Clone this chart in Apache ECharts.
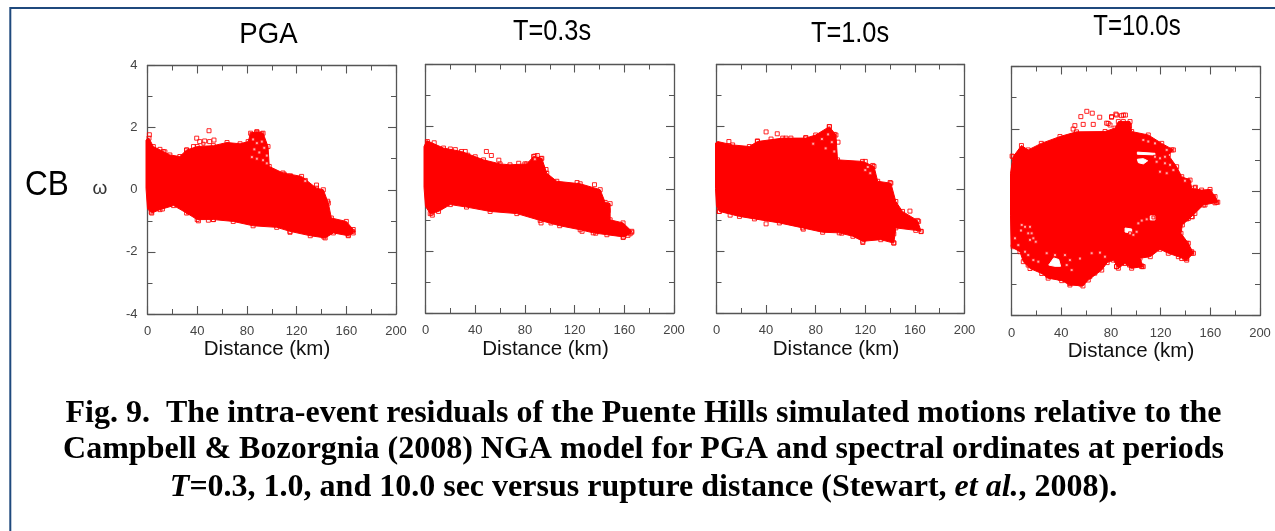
<!DOCTYPE html>
<html>
<head>
<meta charset="utf-8">
<style>html,body{margin:0;padding:0;background:#fff}#c{width:1275px;height:531px}</style>
<script src="https://cdn.jsdelivr.net/npm/echarts@6/dist/echarts.min.js"></script>
</head>
<body>
<div id="c"></div>
<script>
// Tick labels
const xTicks = [0, 40, 80, 120, 160, 200];
const yTicks = [-4, -2, 0, 2, 4];
const panelTitles = ['PGA', 'T=0.3s', 'T=1.0s', 'T=10.0s'];
const xName = 'Distance (km)';

// Outline of each dense residual cloud: [distance km, omega]
const pgaCloud = [[-1.2,1.6],[1.2,1.66],[4.7,1.39],[12.7,1.23],[18,1.12],[26,1.07],[31.5,1.28],[40,1.39],[53,1.42],[64,1.52],[74.5,1.48],[81,1.55],[83,1.82],[88,1.87],[93,1.82],[97,1.39],[98,.75],[109,.54],[124,.43],[136,.05],[141.5,0],[145.5,-.43],[148,-.91],[160,-1.02],[165.6,-1.28],[165.6,-1.39],[161.6,-1.48],[149.6,-1.39],[143,-1.55],[131,-1.48],[114.7,-1.34],[104,-1.21],[85,-1.16],[69,-1.02],[53,-.96],[40,-.96],[31.5,-.75],[21,-.51],[10,-.64],[3.4,-.75],[0,-.62],[-1.2,.05]];
const t03Cloud = [[-1.2,1.36],[1,1.55],[14.5,1.31],[29,1.2],[46.7,.93],[60,.8],[68,.77],[81.5,.8],[87,1.04],[93.6,.98],[97.6,.5],[105.7,.24],[124.5,.16],[140.6,-.03],[144.6,-.44],[148.6,-.48],[148.6,-1],[159,-1.1],[166,-1.37],[164.7,-1.45],[159.4,-1.55],[146,-1.48],[135,-1.42],[124.5,-1.32],[108,-1.19],[92.3,-1.02],[73.5,-.8],[52,-.73],[33,-.59],[20,-.51],[10.5,-.73],[3.8,-.8],[0,-.57],[-1.2,.05]];
const t10Cloud = [[-.8,1.47],[1,1.52],[13,1.41],[26.5,1.36],[33,1.52],[53.4,1.63],[72,1.63],[80,1.73],[91,2.0],[96.3,1.73],[97.6,.93],[117.8,.88],[127,.72],[130,.24],[140.6,.18],[144.6,-.41],[150,-.73],[162,-1.02],[165,-1.37],[160.7,-1.34],[144.6,-1.26],[143,-1.75],[132.5,-1.64],[118,-1.69],[110,-1.53],[99,-1.42],[85.6,-1.4],[69.5,-1.26],[50.7,-1.1],[30.6,-.97],[18.5,-.89],[2.4,-.73],[0,-.57],[-.8,.0]];
const t100Cloud = [[-.8,.57],[1.3,1.1],[8,1.46],[13.4,1.32],[24,1.53],[39,1.75],[52.3,1.9],[75.3,1.91],[83.3,2.02],[86,2.23],[95.4,2.23],[96.7,1.91],[110.1,1.8],[120.9,1.53],[130.3,1.32],[126.2,1.16],[132.9,.78],[137,.46],[143.7,.35],[145,.09],[153,.03],[159.8,.05],[163.8,-.18],[166,-.36],[154.4,-.45],[147.6,-.72],[137.5,-1.09],[136.4,-1.36],[142.3,-1.68],[146.4,-2],[141,-2.22],[134.3,-2.11],[126.2,-2],[119.5,-1.87],[111.7,-2.11],[103.4,-2.16],[106,-2.43],[96.7,-2.48],[91.3,-2.33],[86,-2.48],[82,-2.22],[77,-2.3],[72.6,-2.54],[61.8,-2.86],[57.5,-3.05],[47,-3.02],[40.4,-2.88],[29.5,-2.8],[24.3,-2.65],[14.9,-2.49],[9.5,-2.27],[6.8,-1.95],[-.3,-1.79],[-.8,-.8]];

// Gaps inside the T=10.0s cloud
const t100Gaps = [
  [[101.3,1.25],[115.5,1.21],[115.5,1.16],[101.3,1.18]],
  [[101.3,1.02],[106.1,1.04],[109.6,.97],[106.1,.87],[102.1,.91]],
  [[91.4,-1.19],[96.7,-1.22],[96.7,-1.35],[91.4,-1.32]],
  [[111.7,-.8],[115.4,-.8],[115.4,-.93],[111.7,-.93]],
  [[30,-2.38],[34,-2.15],[38,-2.2],[39.5,-2.42],[35,-2.42]]
];

// Individually visible squares outside or at the cloud edge
const pgaPoints = [[1.5,1.77],[49.5,1.9],[39.6,1.66],[53.5,1.6],[31.5,1.28],[37,1.39],[42,1.55],[46,1.57],[50,1.55],[41,-1],[49,-.98],[53,-.96],[114.7,-1.37],[161.6,-1.46],[165,-1.34],[142,-1.52],[145,-.37],[84,1.78],[88,1.85],[92,1.8],[110,.5],[115,.45],[127,.3],[136,.15],[10,1.3],[14,1.22],[3,-.72],[12,-.62],[33,-.72]];
const t03Points = [[1.5,1.52],[7,1.48],[20,1.28],[24,1.26],[32,1.2],[34,1.08],[40,1.03],[49,1.2],[53,1.07],[59,.92],[75,.82],[80,.8],[88,1.05],[90,1.07],[93,.97],[97,.62],[122,.2],[136,.13],[147,-.7],[5,-.78],[5.5,-.85],[93,-1.1],[101,-1.1],[126,-1.37],[137,-1.43],[159,-1.57],[163,-1.5],[166,-1.4]];
const t10Points = [[10,1.52],[33,1.54],[40,1.83],[49,1.77],[44,1.6],[56,1.63],[60,1.63],[72,1.65],[91,2.0],[95,1.75],[98,1.5],[120,.88],[126,.75],[140,.2],[2,-.73],[11,-.85],[40,-1.13],[70,-1.3],[101,-1.43],[118,-1.73],[119,-1.62],[143,-1.74],[143,-1.45],[156,-.72],[163,-1.05],[165,-1.38]];
const t100Points = [[60.6,2.56],[65,2.5],[55.8,2.39],[71,2.37],[80.5,2.37],[84,2.47],[88.5,2.42],[91.7,2.44],[51,2.1],[49.6,1.99],[57.7,2.14],[65.8,2.14],[77.8,2.17],[95,2.09],[90,2.23],[129,1.32],[142,.33],[148,.12],[159.6,-.02],[165,-.36],[145,-.82],[141,-.9],[.5,1.12],[1.3,-1.79],[10.7,-2.1],[13.4,-2.38],[47,-2.97],[55.8,-2.99],[63,-2.75],[67,-2.64],[84.5,-2.43],[105,-2.41],[95,-2.38],[39,-2.8],[29.5,-2.73],[145,-2],[139.5,-2.16],[80.6,2.39],[84.6,2.44],[90,2.44],[79.3,2.12],[76.6,2.18],[155.7,-.45],[163.8,-.38],[150.4,-.45],[158.4,-.2],[162.5,-.2],[142.3,-.88],[145.5,-.83],[141,-1.68],[145,-1.95],[137,-2.17],[141,-2.17],[84.6,-2.43],[104.8,-2.43],[96.7,-2.41],[60.5,-2.65],[64.5,-2.65],[35,-2.65],[31,-2.65],[25.6,-2.59],[16.2,-2.33]];

// Squares whose hollow centre shows through the cloud
const pgaSpecks = [[85,1.62],[88,1.5],[92,1.55],[86,1.3],[90,1.2],[94,1.35],[96,1.1],[84,1.05],[88,1.0],[93,.95],[96,.85],[127,.28],[45,1.48]];
const t03Specks = [[88,.95]];
const t10Specks = [[85,1.6],[90,1.75],[93,1.5],[78,1.45],[88,1.3],[95,1.2],[120,.6],[124,.5],[122,.7]];
const t100Specks = [[8.2,-1.09],[10.9,-1.15],[14.9,-1.15],[7.6,-1.27],[13.5,-1.36],[16.2,-1.36],[14.9,-1.57],[19.5,-1.63],[17.6,-1.52],[2.8,-1.52],[5.5,-1.74],[10.9,-1.95],[13.5,-2.06],[17.6,-2.22],[21.6,-2.27],[28.3,-2.0],[35,-2.06],[43,-2.06],[47,-2.22],[44.4,-2.38],[55.1,-2.17],[64.5,-2.0],[71.2,-1.98],[75.2,-2.11],[48.4,-2.54],[102.1,-1.04],[104.8,-.95],[108.8,-.91],[114.2,-.85],[95.4,-1.36],[100.7,-1.31],[98.1,-1.41],[115.5,1.1],[119.5,1.05],[123.5,1.1],[116.8,.94],[123.5,.89],[127.6,.84],[119.5,.62],[124.9,.57],[130.3,.67],[124.9,1.32],[115.5,1.53],[110.1,1.59],[106.1,1.64],[139.6,.33],[147.7,.12]];

const clouds = [pgaCloud, t03Cloud, t10Cloud, t100Cloud];
const gaps = [[], [], [], t100Gaps];
const points = [pgaPoints, t03Points, t10Points, t100Points];
const specks = [pgaSpecks, t03Specks, t10Specks, t100Specks];

// Layout of the four panels (px)
const layout = [
  {l:147.5, t:65.5, w:248.5, h:248.5, titleX:268.5, titleY:35, titleScale:.92, nameX:267,   nameY:349},
  {l:425.5, t:64.5, w:248.5, h:248.5, titleX:552,   titleY:32, titleScale:.845, nameX:545.5, nameY:349},
  {l:716.5, t:64.5, w:248,   h:248.5, titleX:850,   titleY:34, titleScale:.845, nameX:836,   nameY:349},
  {l:1011.5,t:66.5, w:248.5, h:249,   titleX:1137,  titleY:27, titleScale:.80, nameX:1131,  nameY:351}
];
const RED = '#ff0000', INK = '#000', AXIS = '#555', TICKTXT = '#444', FRAME = '#1f497d';
const SANS = 'Liberation Sans', SERIF = 'Liberation Serif';

const grid = [], xAxis = [], yAxis = [], series = [], title = [], graphic = [];

function axisCommon(min, max, interval, showLabel, margin) {
  return {
    type: 'value', min, max, interval, splitLine: {show: false},
    axisLine: {show: true, onZero: false, lineStyle: {color: AXIS, width: 1.3}},
    axisTick: {show: true, inside: true, length: 8, lineStyle: {color: AXIS, width: 1.1}},
    minorTick: {show: true, splitNumber: 2, length: 5, lineStyle: {color: AXIS, width: 1}},
    axisLabel: {show: showLabel, color: TICKTXT, fontFamily: SANS, fontSize: 13, margin, hideOverlap: false, showMinLabel: true, showMaxLabel: true}
  };
}
function polygonSeries(i, outline, color) {
  return {
    type: 'custom', xAxisIndex: i * 2, yAxisIndex: i * 2, silent: true, clip: false,
    data: outline, encode: {x: 0, y: 1},
    renderItem(params, api) {
      if (params.dataIndex !== 0) return null;
      return {type: 'polygon', shape: {points: outline.map(p => api.coord(p))}, style: {fill: color, stroke: color, lineWidth: 1}};
    }
  };
}
function squares(i, data, fill, size) {
  return {
    type: 'scatter', xAxisIndex: i * 2, yAxisIndex: i * 2, silent: true, clip: false,
    data, symbol: 'rect', symbolSize: size,
    itemStyle: {color: fill, borderColor: RED, borderWidth: 1, opacity: 0.85}
  };
}
function label(text, x, y, size, scaleX, fill) {
  return {type: 'text', x, y, scaleX, silent: true,
    style: {text, fill, fontFamily: SANS, fontSize: size, align: 'center', verticalAlign: 'middle'}};
}

layout.forEach((g, i) => {
  grid.push({left: g.l, top: g.t, width: g.w, height: g.h});
  const xMin = xTicks[0], xMax = xTicks[xTicks.length - 1], yMin = yTicks[0], yMax = yTicks[yTicks.length - 1];
  const xStep = xTicks[1] - xTicks[0], yStep = yTicks[1] - yTicks[0];
  xAxis.push(Object.assign(axisCommon(xMin, xMax, xStep, true, 11), {gridIndex: i, position: 'bottom'}));
  xAxis.push(Object.assign(axisCommon(xMin, xMax, xStep, false, 11), {gridIndex: i, position: 'top'}));
  yAxis.push(Object.assign(axisCommon(yMin, yMax, yStep, i === 0, 10), {gridIndex: i, position: 'left'}));
  yAxis.push(Object.assign(axisCommon(yMin, yMax, yStep, false, 10), {gridIndex: i, position: 'right'}));

  series.push(polygonSeries(i, clouds[i], RED));
  gaps[i].forEach(h => series.push(polygonSeries(i, h, '#fff')));
  series.push(squares(i, points[i], 'rgba(255,255,255,0)', 4));
  series.push(squares(i, clouds[i].filter(p => p[0] > 1), 'rgba(255,255,255,0)', 4));
  series.push(squares(i, specks[i], '#ffc8c8', 3));

  graphic.push(label(panelTitles[i], g.titleX, g.titleY, 30, g.titleScale, INK));
  graphic.push(label(xName, g.nameX, g.nameY, 20.5, 1, '#111'));
});
graphic.push(label('CB', 47, 185, 35, .9, INK));
graphic.push(label('ω', 100, 189, 19, 1, '#333'));
graphic.push({type: 'line', silent: true, shape: {x1: 10, y1: 8, x2: 1275, y2: 8}, style: {stroke: FRAME, lineWidth: 2}});
graphic.push({type: 'line', silent: true, shape: {x1: 10.3, y1: 7, x2: 10.3, y2: 531}, style: {stroke: FRAME, lineWidth: 2}});

const capStyle = {color: INK, fontFamily: SERIF, fontWeight: 'bold', fontSize: 32};
const capRich = {i: {fontStyle: 'italic', fontWeight: 'bold', fontFamily: SERIF, fontSize: 32, color: INK}, b: {fontWeight: 'bold', fontFamily: SERIF, fontSize: 32, color: INK}};
[['Fig. 9.  The intra-event residuals of the Puente Hills simulated motions relative to the', 414],
 ['Campbell & Bozorgnia (2008) NGA model for PGA and spectral ordinates at periods', 450],
 ['{i|T}{b|=0.3, 1.0, and 10.0 sec versus rupture distance (Stewart, }{i|et al.}{b|, 2008).}', 487.5]
].forEach(([text, y]) => {
  title.push({text, left: 643.5, top: y, padding: 0, textAlign: 'center', textVerticalAlign: 'middle',
    textStyle: Object.assign({rich: capRich}, capStyle)});
});

const chart = echarts.init(document.getElementById('c'), null, {renderer: 'canvas'});
chart.setOption({animation: false, backgroundColor: '#fff', title, grid, xAxis, yAxis, series, graphic});
</script>
</body>
</html>
